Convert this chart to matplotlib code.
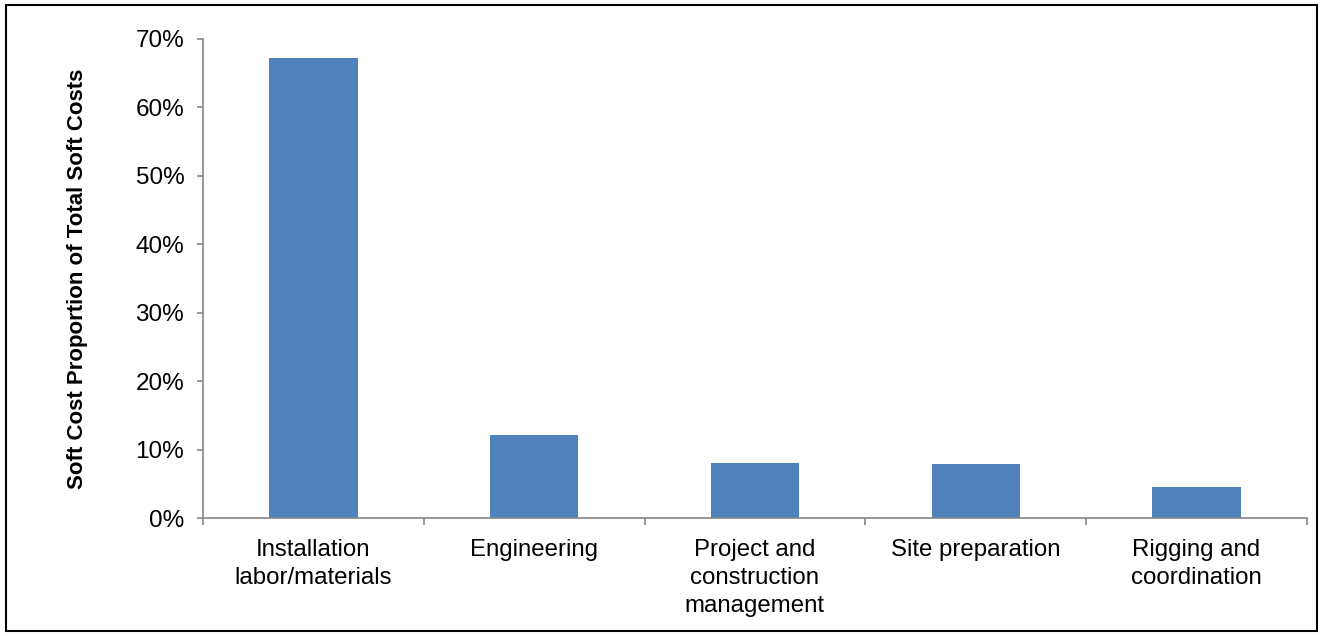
import matplotlib
matplotlib.use("Agg")
import matplotlib.pyplot as plt
import numpy as np
from matplotlib.patches import Rectangle
from matplotlib.ticker import FuncFormatter, FixedLocator

plt.rcParams['font.family'] = ['Liberation Sans', 'DejaVu Sans']

categories = ["Installation\nlabor/materials", "Engineering",
              "Project and\nconstruction\nmanagement", "Site preparation",
              "Rigging and\ncoordination"]
shares = [0.672, 0.121, 0.080, 0.079, 0.045]

bar_color = "#4F81BD"
axis_color = "#868686"

fig = plt.figure(figsize=(13.2, 6.36), dpi=100)
ax = fig.add_axes([0.1538, 0.1855, 0.990 - 0.1538, 0.9387 - 0.1855])

x = np.arange(len(categories))
ax.bar(x, shares, width=0.4, color=bar_color, zorder=2)

ax.set_xlim(-0.5, len(categories) - 0.5)
ax.set_ylim(0, 0.70)
ax.set_yticks(np.arange(0, 0.71, 0.10))
ax.yaxis.set_major_formatter(FuncFormatter(lambda v, p: '%d%%' % round(v * 100)))

# category labels sit on minor ticks, boundary marks on major ticks
ax.xaxis.set_major_locator(FixedLocator(np.arange(-0.5, len(categories), 1.0)))
ax.xaxis.set_major_formatter(FuncFormatter(lambda v, p: ''))
ax.xaxis.set_minor_locator(FixedLocator(x))
ax.set_xticklabels(categories, minor=True, linespacing=1.36)

ax.tick_params(axis='x', which='major', length=5, width=1.2, color=axis_color, direction='out')
ax.tick_params(axis='x', which='minor', length=0, pad=15, labelsize=17.3)
ax.tick_params(axis='y', length=4.5, width=1.2, color=axis_color, pad=9, labelsize=17.5)

for side in ['top', 'right']:
    ax.spines[side].set_visible(False)
for side in ['left', 'bottom']:
    ax.spines[side].set_color(axis_color)
    ax.spines[side].set_linewidth(1.2)

ax.set_ylabel('Soft Cost Proportion of Total Soft Costs', fontsize=16, fontweight='bold', labelpad=34)

# frame around the whole chart
fig.patches.append(Rectangle((6 / 1320, 5 / 636), 1311 / 1320, 626 / 636,
                             transform=fig.transFigure, fill=False,
                             edgecolor='black', linewidth=1.5))

fig.savefig("out.png", dpi=100)
